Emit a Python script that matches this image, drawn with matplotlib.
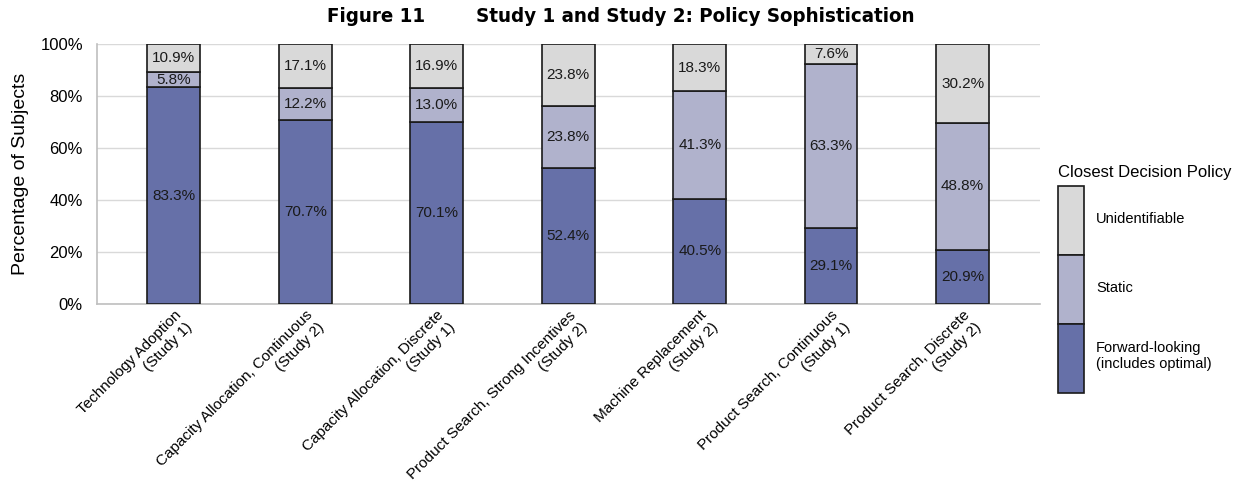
import matplotlib.pyplot as plt
import numpy as np
from matplotlib.patches import Patch
from matplotlib.ticker import PercentFormatter

plt.rcParams['font.family'] = ['Liberation Sans', 'DejaVu Sans']

# tasks and policy shares (%)
tasks = ['Technology Adoption\n(Study 1)',
         'Capacity Allocation, Continuous\n(Study 2)',
         'Capacity Allocation, Discrete\n(Study 1)',
         'Product Search, Strong Incentives\n(Study 2)',
         'Machine Replacement\n(Study 2)',
         'Product Search, Continuous\n(Study 1)',
         'Product Search, Discrete\n(Study 2)']
forward = [83.3, 70.7, 70.1, 52.4, 40.5, 29.1, 20.9]
static = [5.8, 12.2, 13.0, 23.8, 41.3, 63.3, 48.8]
unident = [10.9, 17.1, 16.9, 23.8, 18.3, 7.6, 30.2]

policy_names = ['Forward-looking\n(includes optimal)', 'Static', 'Unidentifiable']
colors = ['#6670A8', '#B0B2CC', '#D9D9D9']

fig = plt.figure(figsize=(12.42, 5), dpi=100)
ax = fig.add_axes([0.078, 0.392, 0.759, 0.52])

x = np.arange(len(tasks))
width = 0.40
bottom = np.zeros(len(tasks))
for vals, col in zip([forward, static, unident], colors):
    vals = np.array(vals)
    ax.bar(x, vals, width, bottom=bottom, color=col, edgecolor='#1a1a1a',
           linewidth=1.2, zorder=3)
    for xi, b, v in zip(x, bottom, vals):
        ax.text(xi, b + v / 2, '%.1f%%' % v, ha='center', va='center',
                fontsize=11, color='#1a1a1a', zorder=4)
    bottom += vals

ax.set_xlim(-0.585, len(tasks) - 0.415)
ax.set_ylim(0, 100)
ax.set_yticks(np.arange(0, 101, 20))
ax.yaxis.set_major_formatter(PercentFormatter(decimals=0))
ax.grid(axis='y', color='#D9D9D9', linewidth=1, zorder=0)
ax.tick_params(axis='y', length=0, pad=10, labelsize=12)
ax.tick_params(axis='x', length=0, pad=3)
ax.set_xticks(x)
ax.set_xticklabels(tasks, rotation=45, ha='right', rotation_mode='anchor',
                   multialignment='right', fontsize=11)
ax.set_ylabel('Percentage of Subjects', fontsize=14, labelpad=8)

for side in ['top', 'right']:
    ax.spines[side].set_visible(False)
for side in ['left', 'bottom']:
    ax.spines[side].set_color('#BFBFBF')
    ax.spines[side].set_linewidth(1.2)

fig.suptitle('Figure 11        Study 1 and Study 2: Policy Sophistication',
             x=0.50, y=0.985, fontsize=14.7, fontweight='bold',
             family='DejaVu Sans', fontstretch='condensed')

# legend: title as its own text, swatches stacked below it
fig.text(0.852, 0.656, 'Closest Decision Policy', ha='left', va='center',
         fontsize=12)
handles = [Patch(facecolor=c, edgecolor='#1a1a1a', linewidth=1.2, label=n)
           for c, n in zip(colors, policy_names)][::-1]
leg = fig.legend(handles=handles, loc='upper left',
                 bbox_to_anchor=(0.852, 0.628), frameon=False,
                 fontsize=10.5, handlelength=1.8, handleheight=6.9,
                 labelspacing=0, handletextpad=0.8,
                 borderpad=0, borderaxespad=0)

fig.savefig('out.png', dpi=100)
